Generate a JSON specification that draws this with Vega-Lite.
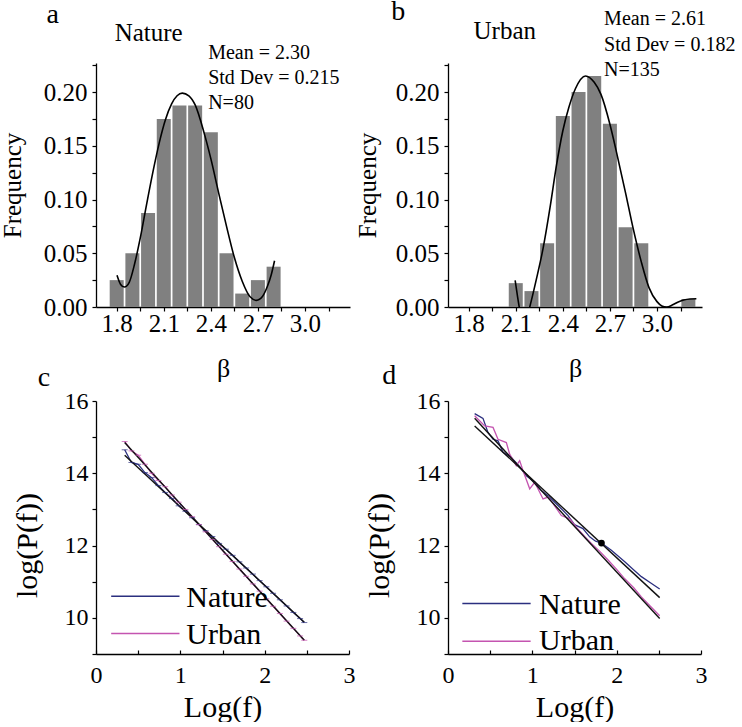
{
  "$schema": "https://vega.github.io/schema/vega-lite/v6.json",
  "background": "white",
  "padding": {"left": 0, "top": -2, "right": 0, "bottom": 0},
  "config": {
    "font": "Liberation Serif",
    "view": {"stroke": null},
    "axis": {"labelFont": "Liberation Serif", "titleFont": "Liberation Serif", "labelColor": "black", "titleColor": "black", "domainColor": "black", "tickColor": "black", "grid": false, "titleFontWeight": "normal", "labelOverlap": false, "labelFlush": false, "domainWidth": 1.3, "tickWidth": 1.2, "tickCount": 30},
    "text": {"font": "Liberation Serif", "color": "black"}
  },
  "datasets": {
    "hist_a": [
      {"beta": 1.8, "frequency": 0.025}, {"beta": 1.9, "frequency": 0.05}, {"beta": 2.0, "frequency": 0.0875},
      {"beta": 2.1, "frequency": 0.175}, {"beta": 2.2, "frequency": 0.1875}, {"beta": 2.3, "frequency": 0.1875},
      {"beta": 2.4, "frequency": 0.1625}, {"beta": 2.5, "frequency": 0.05}, {"beta": 2.6, "frequency": 0.0125},
      {"beta": 2.7, "frequency": 0.025}, {"beta": 2.8, "frequency": 0.0375}
    ],
    "curve_a": [
      {"beta": 1.802, "frequency": 0.0295}, {"beta": 1.825, "frequency": 0.021}, {"beta": 1.849, "frequency": 0.0186},
      {"beta": 1.88, "frequency": 0.023}, {"beta": 1.914, "frequency": 0.04}, {"beta": 1.95, "frequency": 0.064},
      {"beta": 1.99, "frequency": 0.095}, {"beta": 2.03, "frequency": 0.125}, {"beta": 2.07, "frequency": 0.152},
      {"beta": 2.11, "frequency": 0.174}, {"beta": 2.15, "frequency": 0.189}, {"beta": 2.185, "frequency": 0.1965},
      {"beta": 2.218, "frequency": 0.199}, {"beta": 2.26, "frequency": 0.1965}, {"beta": 2.3, "frequency": 0.188},
      {"beta": 2.357, "frequency": 0.162}, {"beta": 2.4, "frequency": 0.138}, {"beta": 2.45, "frequency": 0.106},
      {"beta": 2.5, "frequency": 0.075}, {"beta": 2.55, "frequency": 0.046}, {"beta": 2.6, "frequency": 0.024},
      {"beta": 2.65, "frequency": 0.0095}, {"beta": 2.69, "frequency": 0.0062}, {"beta": 2.73, "frequency": 0.01},
      {"beta": 2.76, "frequency": 0.019}, {"beta": 2.785, "frequency": 0.03}, {"beta": 2.806, "frequency": 0.043}
    ],
    "hist_b": [
      {"beta": 2.1, "frequency": 0.0222}, {"beta": 2.2, "frequency": 0.0148}, {"beta": 2.3, "frequency": 0.0593},
      {"beta": 2.4, "frequency": 0.1778}, {"beta": 2.5, "frequency": 0.2}, {"beta": 2.6, "frequency": 0.2148},
      {"beta": 2.7, "frequency": 0.1704}, {"beta": 2.8, "frequency": 0.0741}, {"beta": 2.9, "frequency": 0.0593},
      {"beta": 3.2, "frequency": 0.0074}
    ],
    "curve_b": [
      {"beta": 2.096, "frequency": 0.0248}, {"beta": 2.11, "frequency": 0.011}, {"beta": 2.122, "frequency": 0.0},
      {"beta": 2.14, "frequency": -0.012}, {"beta": 2.16, "frequency": -0.015}, {"beta": 2.189, "frequency": 0.0},
      {"beta": 2.23, "frequency": 0.025}, {"beta": 2.275, "frequency": 0.0552}, {"beta": 2.32, "frequency": 0.094},
      {"beta": 2.357, "frequency": 0.1296}, {"beta": 2.4, "frequency": 0.164}, {"beta": 2.439, "frequency": 0.186},
      {"beta": 2.48, "frequency": 0.203}, {"beta": 2.545, "frequency": 0.2149}, {"beta": 2.6, "frequency": 0.209},
      {"beta": 2.643, "frequency": 0.1978}, {"beta": 2.7, "frequency": 0.17}, {"beta": 2.745, "frequency": 0.142},
      {"beta": 2.8, "frequency": 0.106}, {"beta": 2.847, "frequency": 0.0738}, {"beta": 2.9, "frequency": 0.042},
      {"beta": 2.949, "frequency": 0.018}, {"beta": 3.0, "frequency": 0.005}, {"beta": 3.031, "frequency": 0.001},
      {"beta": 3.061, "frequency": 0.0}, {"beta": 3.1, "frequency": 0.002}, {"beta": 3.132, "frequency": 0.0045},
      {"beta": 3.17, "frequency": 0.0065}, {"beta": 3.21, "frequency": 0.0075}, {"beta": 3.251, "frequency": 0.0077}
    ],
    "c_data": [
      {"series": "Nature", "log_f": 0.34, "log_p": 14.65}, {"series": "Nature", "log_f": 0.42, "log_p": 14.3},
      {"series": "Nature", "log_f": 0.5, "log_p": 14.25}, {"series": "Nature", "log_f": 0.58, "log_p": 14.02},
      {"series": "Nature", "log_f": 0.66, "log_p": 13.88}, {"series": "Nature", "log_f": 0.74, "log_p": 13.66},
      {"series": "Nature", "log_f": 0.82, "log_p": 13.47}, {"series": "Nature", "log_f": 0.9, "log_p": 13.3},
      {"series": "Nature", "log_f": 0.98, "log_p": 13.1}, {"series": "Nature", "log_f": 1.06, "log_p": 12.95},
      {"series": "Nature", "log_f": 1.14, "log_p": 12.77}, {"series": "Nature", "log_f": 1.22, "log_p": 12.58},
      {"series": "Nature", "log_f": 1.3, "log_p": 12.41}, {"series": "Nature", "log_f": 1.38, "log_p": 12.25},
      {"series": "Nature", "log_f": 1.46, "log_p": 12.06}, {"series": "Nature", "log_f": 1.54, "log_p": 11.9},
      {"series": "Nature", "log_f": 1.62, "log_p": 11.73}, {"series": "Nature", "log_f": 1.7, "log_p": 11.55},
      {"series": "Nature", "log_f": 1.78, "log_p": 11.38}, {"series": "Nature", "log_f": 1.86, "log_p": 11.21},
      {"series": "Nature", "log_f": 1.94, "log_p": 11.03}, {"series": "Nature", "log_f": 2.02, "log_p": 10.86},
      {"series": "Nature", "log_f": 2.1, "log_p": 10.68}, {"series": "Nature", "log_f": 2.18, "log_p": 10.5},
      {"series": "Nature", "log_f": 2.26, "log_p": 10.33}, {"series": "Nature", "log_f": 2.34, "log_p": 10.15},
      {"series": "Nature", "log_f": 2.42, "log_p": 9.98}, {"series": "Nature", "log_f": 2.47, "log_p": 9.87},
      {"series": "Urban", "log_f": 0.34, "log_p": 14.88}, {"series": "Urban", "log_f": 0.42, "log_p": 14.62},
      {"series": "Urban", "log_f": 0.5, "log_p": 14.5}, {"series": "Urban", "log_f": 0.58, "log_p": 14.25},
      {"series": "Urban", "log_f": 0.66, "log_p": 14.0}, {"series": "Urban", "log_f": 0.74, "log_p": 13.8},
      {"series": "Urban", "log_f": 0.82, "log_p": 13.63}, {"series": "Urban", "log_f": 0.9, "log_p": 13.4},
      {"series": "Urban", "log_f": 0.98, "log_p": 13.2}, {"series": "Urban", "log_f": 1.06, "log_p": 13.0},
      {"series": "Urban", "log_f": 1.14, "log_p": 12.8}, {"series": "Urban", "log_f": 1.22, "log_p": 12.58},
      {"series": "Urban", "log_f": 1.3, "log_p": 12.38}, {"series": "Urban", "log_f": 1.38, "log_p": 12.17},
      {"series": "Urban", "log_f": 1.46, "log_p": 11.97}, {"series": "Urban", "log_f": 1.54, "log_p": 11.76},
      {"series": "Urban", "log_f": 1.62, "log_p": 11.56}, {"series": "Urban", "log_f": 1.7, "log_p": 11.35},
      {"series": "Urban", "log_f": 1.78, "log_p": 11.15}, {"series": "Urban", "log_f": 1.86, "log_p": 10.94},
      {"series": "Urban", "log_f": 1.94, "log_p": 10.74}, {"series": "Urban", "log_f": 2.02, "log_p": 10.53},
      {"series": "Urban", "log_f": 2.1, "log_p": 10.32}, {"series": "Urban", "log_f": 2.18, "log_p": 10.12},
      {"series": "Urban", "log_f": 2.26, "log_p": 9.91}, {"series": "Urban", "log_f": 2.34, "log_p": 9.71},
      {"series": "Urban", "log_f": 2.42, "log_p": 9.5}, {"series": "Urban", "log_f": 2.47, "log_p": 9.38}
    ],
    "c_fit": [
      {"fit": "Nature", "log_f": 0.34, "log_p": 14.5}, {"fit": "Nature", "log_f": 2.47, "log_p": 9.88},
      {"fit": "Urban", "log_f": 0.34, "log_p": 14.85}, {"fit": "Urban", "log_f": 2.47, "log_p": 9.38}
    ],
    "d_data": [
      {"series": "Nature", "log_f": 0.316, "log_p": 15.65}, {"series": "Nature", "log_f": 0.415, "log_p": 15.52},
      {"series": "Nature", "log_f": 0.474, "log_p": 15.13}, {"series": "Nature", "log_f": 0.534, "log_p": 14.94},
      {"series": "Nature", "log_f": 0.593, "log_p": 14.9}, {"series": "Nature", "log_f": 0.652, "log_p": 14.58},
      {"series": "Nature", "log_f": 0.751, "log_p": 14.44}, {"series": "Nature", "log_f": 0.85, "log_p": 14.18},
      {"series": "Nature", "log_f": 0.929, "log_p": 13.93}, {"series": "Nature", "log_f": 1.028, "log_p": 13.75},
      {"series": "Nature", "log_f": 1.107, "log_p": 13.52}, {"series": "Nature", "log_f": 1.2, "log_p": 13.35},
      {"series": "Nature", "log_f": 1.305, "log_p": 13.11}, {"series": "Nature", "log_f": 1.423, "log_p": 12.83},
      {"series": "Nature", "log_f": 1.5, "log_p": 12.58}, {"series": "Nature", "log_f": 1.6, "log_p": 12.47},
      {"series": "Nature", "log_f": 1.68, "log_p": 12.24}, {"series": "Nature", "log_f": 1.75, "log_p": 12.12},
      {"series": "Nature", "log_f": 1.82, "log_p": 12.07}, {"series": "Nature", "log_f": 1.937, "log_p": 11.87},
      {"series": "Nature", "log_f": 2.096, "log_p": 11.55}, {"series": "Nature", "log_f": 2.2, "log_p": 11.33},
      {"series": "Nature", "log_f": 2.293, "log_p": 11.14}, {"series": "Nature", "log_f": 2.4, "log_p": 10.97},
      {"series": "Nature", "log_f": 2.51, "log_p": 10.8},
      {"series": "Urban", "log_f": 0.316, "log_p": 15.59}, {"series": "Urban", "log_f": 0.435, "log_p": 15.31},
      {"series": "Urban", "log_f": 0.534, "log_p": 15.27}, {"series": "Urban", "log_f": 0.593, "log_p": 14.94},
      {"series": "Urban", "log_f": 0.692, "log_p": 14.85}, {"series": "Urban", "log_f": 0.731, "log_p": 14.53},
      {"series": "Urban", "log_f": 0.81, "log_p": 14.21}, {"series": "Urban", "log_f": 0.85, "log_p": 14.35},
      {"series": "Urban", "log_f": 0.89, "log_p": 14.07}, {"series": "Urban", "log_f": 0.969, "log_p": 13.57},
      {"series": "Urban", "log_f": 1.028, "log_p": 13.75}, {"series": "Urban", "log_f": 1.127, "log_p": 13.29},
      {"series": "Urban", "log_f": 1.186, "log_p": 13.34}, {"series": "Urban", "log_f": 1.246, "log_p": 13.16},
      {"series": "Urban", "log_f": 1.344, "log_p": 12.83}, {"series": "Urban", "log_f": 1.443, "log_p": 12.74},
      {"series": "Urban", "log_f": 1.542, "log_p": 12.45}, {"series": "Urban", "log_f": 1.62, "log_p": 12.25},
      {"series": "Urban", "log_f": 1.7, "log_p": 12.06}, {"series": "Urban", "log_f": 1.8, "log_p": 11.84},
      {"series": "Urban", "log_f": 1.898, "log_p": 11.6}, {"series": "Urban", "log_f": 2.0, "log_p": 11.34},
      {"series": "Urban", "log_f": 2.096, "log_p": 11.08}, {"series": "Urban", "log_f": 2.2, "log_p": 10.84},
      {"series": "Urban", "log_f": 2.293, "log_p": 10.58}, {"series": "Urban", "log_f": 2.4, "log_p": 10.32},
      {"series": "Urban", "log_f": 2.51, "log_p": 10.06}
    ],
    "d_fit": [
      {"fit": "Nature", "log_f": 0.316, "log_p": 15.31}, {"fit": "Nature", "log_f": 2.51, "log_p": 10.56},
      {"fit": "Urban", "log_f": 0.316, "log_p": 15.52}, {"fit": "Urban", "log_f": 2.51, "log_p": 9.98}
    ],
    "d_dot": [{"log_f": 1.82, "log_p": 12.07}]
  },
  "columns": 2,
  "bounds": "flush",
  "spacing": {"row": 94, "column": 98},
  "concat": [
    {
      "width": 254, "height": 244,
      "layer": [
        {
          "data": {"name": "hist_a"},
          "mark": {"type": "bar", "width": 14, "color": "#808080"},
          "encoding": {
            "x": {"field": "beta", "type": "quantitative", "scale": {"domain": [1.7, 3.255], "nice": false, "zero": false},
              "axis": {"title": "β", "values": [1.8, 1.95, 2.1, 2.25, 2.4, 2.55, 2.7, 2.85, 3.0, 3.15], "tickCount": 30, "labelExpr": "round(datum.value*100) % 30 == 0 ? format(datum.value, '.1f') : ''", "labelFontSize": 25, "titleFontSize": 26, "tickSize": 4, "labelPadding": 0, "titlePadding": 19}},
            "y": {"field": "frequency", "type": "quantitative", "scale": {"domain": [0, 0.227], "nice": false},
              "axis": {"title": "Frequency", "values": [0, 0.025, 0.05, 0.075, 0.1, 0.125, 0.15, 0.175, 0.2, 0.225], "tickCount": 30, "labelExpr": "round(datum.value*1000) % 50 == 0 ? format(datum.value, '.2f') : ''", "labelFontSize": 25, "titleFontSize": 25, "tickSize": 4, "labelPadding": 5, "titlePadding": 18}}
          }
        },
        {
          "data": {"name": "curve_a"},
          "mark": {"type": "line", "color": "black", "strokeWidth": 1.6, "interpolate": "monotone", "clip": true},
          "encoding": {"x": {"field": "beta", "type": "quantitative"}, "y": {"field": "frequency", "type": "quantitative"}}
        },
        {
          "data": {"values": [{}]},
          "mark": {"type": "text", "text": "a", "fontSize": 28, "align": "left", "baseline": "alphabetic"},
          "encoding": {"x": {"datum": 1.353, "type": "quantitative"}, "y": {"datum": 0.2645, "type": "quantitative"}}
        },
        {
          "data": {"values": [{}]},
          "mark": {"type": "text", "text": "Nature", "fontSize": 25, "align": "center", "baseline": "alphabetic"},
          "encoding": {"x": {"datum": 2.004, "type": "quantitative"}, "y": {"datum": 0.2474, "type": "quantitative"}}
        },
        {
          "data": {"values": [{}]},
          "mark": {"type": "text", "text": ["Mean = 2.30", "Std Dev = 0.215", "N=80"], "lineHeight": 25, "fontSize": 20, "align": "left", "baseline": "alphabetic"},
          "encoding": {"x": {"datum": 2.383, "type": "quantitative"}, "y": {"datum": 0.2304, "type": "quantitative"}}
        }
      ]
    },
    {
      "width": 254, "height": 244,
      "layer": [
        {
          "data": {"name": "hist_b"},
          "mark": {"type": "bar", "width": 14, "color": "#808080"},
          "encoding": {
            "x": {"field": "beta", "type": "quantitative", "scale": {"domain": [1.7, 3.255], "nice": false, "zero": false},
              "axis": {"title": "β", "values": [1.8, 1.95, 2.1, 2.25, 2.4, 2.55, 2.7, 2.85, 3.0, 3.15], "tickCount": 30, "labelExpr": "round(datum.value*100) % 30 == 0 ? format(datum.value, '.1f') : ''", "labelFontSize": 25, "titleFontSize": 26, "tickSize": 4, "labelPadding": 0, "titlePadding": 19}},
            "y": {"field": "frequency", "type": "quantitative", "scale": {"domain": [0, 0.227], "nice": false},
              "axis": {"title": "Frequency", "values": [0, 0.025, 0.05, 0.075, 0.1, 0.125, 0.15, 0.175, 0.2, 0.225], "tickCount": 30, "labelExpr": "round(datum.value*1000) % 50 == 0 ? format(datum.value, '.2f') : ''", "labelFontSize": 25, "titleFontSize": 25, "tickSize": 4, "labelPadding": 5, "titlePadding": 15}}
          }
        },
        {
          "data": {"name": "curve_b"},
          "mark": {"type": "line", "color": "black", "strokeWidth": 1.6, "interpolate": "monotone", "clip": true},
          "encoding": {"x": {"field": "beta", "type": "quantitative"}, "y": {"field": "frequency", "type": "quantitative"}}
        },
        {
          "data": {"values": [{}]},
          "mark": {"type": "text", "text": "b", "fontSize": 28, "align": "left", "baseline": "alphabetic"},
          "encoding": {"x": {"datum": 1.306, "type": "quantitative"}, "y": {"datum": 0.2667, "type": "quantitative"}}
        },
        {
          "data": {"values": [{}]},
          "mark": {"type": "text", "text": "Urban", "fontSize": 25, "align": "center", "baseline": "alphabetic"},
          "encoding": {"x": {"datum": 2.03, "type": "quantitative"}, "y": {"datum": 0.249, "type": "quantitative"}}
        },
        {
          "data": {"values": [{}]},
          "mark": {"type": "text", "text": ["Mean = 2.61", "Std Dev = 0.182", "N=135"], "lineHeight": 25.5, "fontSize": 20, "align": "left", "baseline": "alphabetic"},
          "encoding": {"x": {"datum": 2.663, "type": "quantitative"}, "y": {"datum": 0.2623, "type": "quantitative"}}
        }
      ]
    },
    {
      "width": 253, "height": 253,
      "layer": [
        {
          "data": {"name": "c_data"},
          "mark": {"type": "line", "strokeWidth": 1.3},
          "encoding": {
            "x": {"field": "log_f", "type": "quantitative", "scale": {"domain": [0, 3], "nice": false, "zero": false},
              "axis": {"title": "Log(f)", "values": [0, 0.5, 1, 1.5, 2, 2.5, 3], "tickCount": 30, "labelExpr": "round(datum.value*10) % 10 == 0 ? format(datum.value, 'd') : ''", "labelFontSize": 24, "titleFontSize": 30, "tickSize": -4, "labelPadding": 13, "titlePadding": 5}},
            "y": {"field": "log_p", "type": "quantitative", "scale": {"domain": [9, 16], "nice": false, "zero": false},
              "axis": {"title": "log(P(f))", "values": [9, 10, 11, 12, 13, 14, 15, 16], "tickCount": 30, "labelExpr": "round(datum.value) % 2 == 0 ? format(datum.value, 'd') : ''", "labelFontSize": 24, "titleFontSize": 30, "tickSize": 4, "labelPadding": 4, "titlePadding": 22, "titleY": 144}},
            "color": {"field": "series", "type": "nominal", "scale": {"domain": ["Nature", "Urban"], "range": ["#2b2f7f", "#c454b0"]}, "legend": null}
          }
        },
        {
          "data": {"name": "c_fit"},
          "mark": {"type": "line", "color": "#111111", "strokeWidth": 1.4},
          "encoding": {"x": {"field": "log_f", "type": "quantitative"}, "y": {"field": "log_p", "type": "quantitative"}, "detail": {"field": "fit", "type": "nominal"}}
        },
        {
          "data": {"name": "c_data"},
          "mark": {"type": "tick", "orient": "horizontal", "size": 6, "thickness": 1},
          "encoding": {"x": {"field": "log_f", "type": "quantitative"}, "y": {"field": "log_p", "type": "quantitative"}, "color": {"field": "series", "type": "nominal", "legend": null}}
        },
        {
          "data": {"values": [{}]},
          "mark": {"type": "rule", "color": "#2b2f7f", "strokeWidth": 1.5},
          "encoding": {"x": {"datum": 0.18, "type": "quantitative"}, "x2": {"datum": 0.99}, "y": {"datum": 10.6, "type": "quantitative"}}
        },
        {
          "data": {"values": [{}]},
          "mark": {"type": "rule", "color": "#c454b0", "strokeWidth": 1.5},
          "encoding": {"x": {"datum": 0.18, "type": "quantitative"}, "x2": {"datum": 0.99}, "y": {"datum": 9.57, "type": "quantitative"}}
        },
        {
          "data": {"values": [{}]},
          "mark": {"type": "text", "text": "Nature", "fontSize": 30, "align": "left", "baseline": "alphabetic"},
          "encoding": {"x": {"datum": 1.07, "type": "quantitative"}, "y": {"datum": 10.3, "type": "quantitative"}}
        },
        {
          "data": {"values": [{}]},
          "mark": {"type": "text", "text": "Urban", "fontSize": 30, "align": "left", "baseline": "alphabetic"},
          "encoding": {"x": {"datum": 1.07, "type": "quantitative"}, "y": {"datum": 9.28, "type": "quantitative"}}
        },
        {
          "data": {"values": [{}]},
          "mark": {"type": "text", "text": "c", "fontSize": 28, "align": "left", "baseline": "alphabetic"},
          "encoding": {"x": {"datum": -0.69, "type": "quantitative"}, "y": {"datum": 16.41, "type": "quantitative"}}
        }
      ]
    },
    {
      "width": 253, "height": 253,
      "layer": [
        {
          "data": {"name": "d_data"},
          "mark": {"type": "line", "strokeWidth": 1.3},
          "encoding": {
            "x": {"field": "log_f", "type": "quantitative", "scale": {"domain": [0, 3], "nice": false, "zero": false},
              "axis": {"title": "Log(f)", "values": [0, 0.5, 1, 1.5, 2, 2.5, 3], "tickCount": 30, "labelExpr": "round(datum.value*10) % 10 == 0 ? format(datum.value, 'd') : ''", "labelFontSize": 24, "titleFontSize": 30, "tickSize": -4, "labelPadding": 13, "titlePadding": 5}},
            "y": {"field": "log_p", "type": "quantitative", "scale": {"domain": [9, 16], "nice": false, "zero": false},
              "axis": {"title": "log(P(f))", "values": [9, 10, 11, 12, 13, 14, 15, 16], "tickCount": 30, "labelExpr": "round(datum.value) % 2 == 0 ? format(datum.value, 'd') : ''", "labelFontSize": 24, "titleFontSize": 30, "tickSize": 4, "labelPadding": 4, "titlePadding": 22, "titleY": 144}},
            "color": {"field": "series", "type": "nominal", "scale": {"domain": ["Nature", "Urban"], "range": ["#2b2f7f", "#c454b0"]}, "legend": null}
          }
        },
        {
          "data": {"name": "d_fit"},
          "mark": {"type": "line", "color": "#111111", "strokeWidth": 1.4},
          "encoding": {"x": {"field": "log_f", "type": "quantitative"}, "y": {"field": "log_p", "type": "quantitative"}, "detail": {"field": "fit", "type": "nominal"}}
        },
        {
          "data": {"name": "d_dot"},
          "mark": {"type": "point", "filled": true, "color": "black", "size": 45, "opacity": 1},
          "encoding": {"x": {"field": "log_f", "type": "quantitative"}, "y": {"field": "log_p", "type": "quantitative"}}
        },
        {
          "data": {"values": [{}]},
          "mark": {"type": "rule", "color": "#2b2f7f", "strokeWidth": 1.5},
          "encoding": {"x": {"datum": 0.17, "type": "quantitative"}, "x2": {"datum": 0.98}, "y": {"datum": 10.4, "type": "quantitative"}}
        },
        {
          "data": {"values": [{}]},
          "mark": {"type": "rule", "color": "#c454b0", "strokeWidth": 1.5},
          "encoding": {"x": {"datum": 0.17, "type": "quantitative"}, "x2": {"datum": 0.98}, "y": {"datum": 9.35, "type": "quantitative"}}
        },
        {
          "data": {"values": [{}]},
          "mark": {"type": "text", "text": "Nature", "fontSize": 30, "align": "left", "baseline": "alphabetic"},
          "encoding": {"x": {"datum": 1.08, "type": "quantitative"}, "y": {"datum": 10.12, "type": "quantitative"}}
        },
        {
          "data": {"values": [{}]},
          "mark": {"type": "text", "text": "Urban", "fontSize": 30, "align": "left", "baseline": "alphabetic"},
          "encoding": {"x": {"datum": 1.08, "type": "quantitative"}, "y": {"datum": 9.11, "type": "quantitative"}}
        },
        {
          "data": {"values": [{}]},
          "mark": {"type": "text", "text": "d", "fontSize": 28, "align": "left", "baseline": "alphabetic"},
          "encoding": {"x": {"datum": -0.78, "type": "quantitative"}, "y": {"datum": 16.48, "type": "quantitative"}}
        }
      ]
    }
  ]
}
